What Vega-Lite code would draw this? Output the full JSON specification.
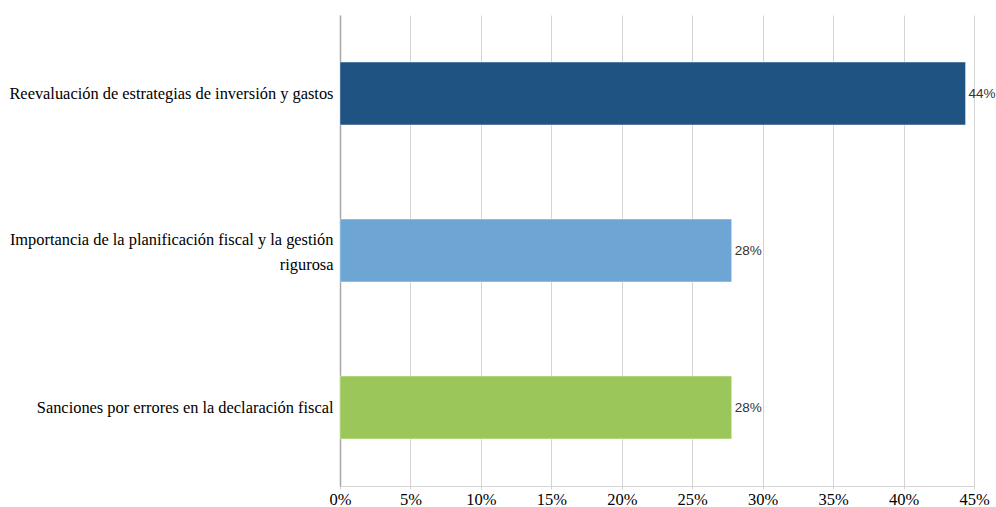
{
  "$schema": "https://vega.github.io/schema/vega-lite/v6.json",
  "description": "Horizontal bar chart of fiscal impact categories",
  "autosize": {"type": "none"},
  "padding": {"left": 340, "top": 15, "right": 22, "bottom": 21},
  "width": 634,
  "height": 471,
  "background": "white",
  "data": {
    "values": [
      {"categoria": "Reevaluación de estrategias de inversión y gastos", "valor": 0.444},
      {"categoria": "Importancia de la planificación fiscal y la gestión|rigurosa", "valor": 0.278},
      {"categoria": "Sanciones por errores en la declaración fiscal", "valor": 0.278}
    ]
  },
  "config": {
    "view": {"stroke": null},
    "axis": {"labelFont": "Liberation Serif", "labelColor": "#000000"}
  },
  "encoding": {
    "y": {
      "field": "categoria",
      "type": "nominal",
      "sort": null,
      "title": null,
      "scale": {"paddingInner": 0.6, "paddingOuter": 0.3},
      "axis": {
        "labelExpr": "split(datum.label, '|')",
        "labelFontSize": 16.4,
        "labelLineHeight": 25,
        "labelLimit": 340,
        "labelPadding": 7,
        "labelOffset": {
          "condition": {"test": "indexof(datum.value, '|') >= 0", "value": -11},
          "value": 0
        },
        "ticks": false,
        "domainColor": "#A6A6A6",
        "domainWidth": 1.5
      }
    },
    "x": {
      "field": "valor",
      "type": "quantitative",
      "title": null,
      "scale": {"domain": [0, 0.45], "nice": false},
      "axis": {
        "format": ".0%",
        "values": [0, 0.05, 0.1, 0.15, 0.2, 0.25, 0.3, 0.35, 0.4, 0.45],
        "labelFontSize": 16.5,
        "labelPadding": 2,
        "gridColor": "#D4D4D4",
        "domainColor": "#D4D4D4",
        "tickColor": "#D4D4D4",
        "tickSize": 3,
        "labelFlush": false
      }
    }
  },
  "layer": [
    {
      "mark": {"type": "bar", "stroke": "#FFFFFF", "strokeOpacity": 0.4, "strokeWidth": 1},
      "encoding": {
        "color": {
          "field": "categoria",
          "type": "nominal",
          "legend": null,
          "scale": {
            "domain": [
              "Reevaluación de estrategias de inversión y gastos",
              "Importancia de la planificación fiscal y la gestión|rigurosa",
              "Sanciones por errores en la declaración fiscal"
            ],
            "range": ["#1F5382", "#6DA6D5", "#9BC659"]
          }
        }
      }
    },
    {
      "mark": {
        "type": "text",
        "align": "left",
        "dx": 3,
        "font": "Liberation Sans",
        "fontSize": 13.5,
        "color": "#333333"
      },
      "encoding": {
        "text": {"field": "valor", "type": "quantitative", "format": ".0%"}
      }
    }
  ]
}
